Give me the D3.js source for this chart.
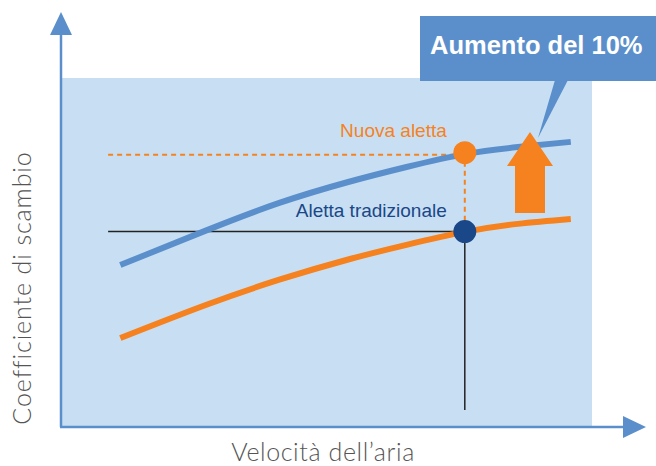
<!DOCTYPE html>
<html>
<head>
<meta charset="utf-8">
<script src="https://cdn.jsdelivr.net/npm/d3@7"></script>
<style>
  body { margin: 0; background: #fff; }
  svg { display: block; }
</style>
</head>
<body>
<div id="chart"></div>
<script>
// curve data (velocity in arbitrary units, coefficient 0-100)
var velocita = [1.1, 2.7, 4.1, 5.4, 6.5, 7.6, 8.6, 9.6];
var nuovaAletta = [46.4, 56.2, 64.2, 70.2, 74.5, 78.2, 80.2, 81.7];
var alettaTradizionale = [25.5, 34.9, 42.2, 48.0, 52.2, 55.9, 58.2, 59.6];

// operating point
var puntoVelocita = 7.6;
var puntoNuova = 78.6;
var puntoTradizionale = 56.0;
var guidaInizio = 0.87;
var guidaFondo = 4.9;
var frecciaVelocita = 8.83;

var etichette = {
  x: "Velocità dell’aria",
  y: "Coefficiente di scambio",
  nuova: "Nuova aletta",
  tradizionale: "Aletta tradizionale",
  aumento: "Aumento del 10%"
};

var blue = "#5b8fcb", lightBlue = "#c8dff3", orange = "#f5821f", navy = "#1a4787";

var W = 656, H = 466;
var margin = {top: 78, right: 64, bottom: 39, left: 62},
    width = W - margin.left - margin.right,
    height = H - margin.top - margin.bottom;

var svg = d3.select("#chart")
  .append("svg")
    .attr("width", W)
    .attr("height", H);

var g = svg.append("g")
    .attr("transform", "translate(" + margin.left + "," + margin.top + ")");

var x = d3.scaleLinear().domain([0, 10]).range([0, width]);
var y = d3.scaleLinear().domain([0, 100]).range([height, 0]);

// plot background
g.append("rect")
  .attr("x", 0).attr("y", 0)
  .attr("width", width).attr("height", height)
  .attr("fill", lightBlue);

// axes with arrows
var axisY = margin.top + height;
svg.append("line")
  .attr("x1", margin.left - 1).attr("y1", axisY)
  .attr("x2", margin.left - 1).attr("y2", 32)
  .attr("stroke", blue).attr("stroke-width", 2.5);
svg.append("path")
  .attr("d", "M" + (margin.left - 1) + ",12 L" + (margin.left - 12) + ",35 L" + (margin.left + 10) + ",35 Z")
  .attr("fill", blue);
svg.append("line")
  .attr("x1", margin.left - 2).attr("y1", axisY)
  .attr("x2", 625).attr("y2", axisY)
  .attr("stroke", blue).attr("stroke-width", 2.5);
svg.append("path")
  .attr("d", "M646," + axisY + " L623," + (axisY - 11) + " L623," + (axisY + 11) + " Z")
  .attr("fill", blue);

// guide lines
g.append("line")
  .attr("x1", x(guidaInizio)).attr("x2", x(puntoVelocita))
  .attr("y1", y(puntoTradizionale)).attr("y2", y(puntoTradizionale))
  .attr("stroke", "#222").attr("stroke-width", 1.5);
g.append("line")
  .attr("x1", x(puntoVelocita)).attr("x2", x(puntoVelocita))
  .attr("y1", y(puntoTradizionale)).attr("y2", y(guidaFondo))
  .attr("stroke", "#222").attr("stroke-width", 1.5);
g.append("line")
  .attr("x1", x(guidaInizio)).attr("x2", x(puntoVelocita))
  .attr("y1", y(puntoNuova) + 2).attr("y2", y(puntoNuova) + 2)
  .attr("stroke", orange).attr("stroke-width", 2)
  .attr("stroke-dasharray", "5,4");
g.append("line")
  .attr("x1", x(puntoVelocita)).attr("x2", x(puntoVelocita))
  .attr("y1", y(puntoNuova)).attr("y2", y(puntoTradizionale))
  .attr("stroke", orange).attr("stroke-width", 2)
  .attr("stroke-dasharray", "5,4");

// curves
var line = d3.line()
  .x(function(d) { return x(d[0]); })
  .y(function(d) { return y(d[1]); })
  .curve(d3.curveNatural);

g.append("path")
  .datum(d3.zip(velocita, nuovaAletta))
  .attr("d", line)
  .attr("fill", "none")
  .attr("stroke", blue)
  .attr("stroke-width", 6);

g.append("path")
  .datum(d3.zip(velocita, alettaTradizionale))
  .attr("d", line)
  .attr("fill", "none")
  .attr("stroke", orange)
  .attr("stroke-width", 6);

// points
g.append("circle")
  .attr("cx", x(puntoVelocita)).attr("cy", y(puntoNuova))
  .attr("r", 11.5).attr("fill", orange);
g.append("circle")
  .attr("cx", x(puntoVelocita)).attr("cy", y(puntoTradizionale))
  .attr("r", 11.5).attr("fill", navy);

// point labels
g.append("text")
  .attr("x", x(puntoVelocita) - 18).attr("y", y(puntoNuova) - 16)
  .attr("text-anchor", "end")
  .attr("font-family", "Liberation Sans, Arial, sans-serif")
  .attr("font-size", 19)
  .attr("fill", orange)
  .text(etichette.nuova);
g.append("text")
  .attr("x", x(puntoVelocita) - 18).attr("y", y(puntoTradizionale) - 15)
  .attr("text-anchor", "end")
  .attr("font-family", "Liberation Sans, Arial, sans-serif")
  .attr("font-size", 19)
  .attr("fill", navy)
  .text(etichette.tradizionale);

// big orange up arrow
var ax = margin.left + x(frecciaVelocita);
svg.append("path")
  .attr("d", "M" + (ax - 15) + ",213 L" + (ax - 15) + ",166 L" + (ax - 23) + ",166 L" + ax + ",132 L" + (ax + 23) + ",166 L" + (ax + 15) + ",166 L" + (ax + 15) + ",213 Z")
  .attr("fill", orange);

// callout
svg.append("path")
  .attr("d", "M555,80 L568,80 L538,138 Z")
  .attr("fill", blue);
svg.append("rect")
  .attr("x", 420).attr("y", 16)
  .attr("width", 240).attr("height", 65)
  .attr("fill", blue);
svg.append("text")
  .attr("x", 430).attr("y", 54)
  .attr("font-family", "Liberation Sans, Arial, sans-serif")
  .attr("font-weight", "bold")
  .attr("font-size", 25.5)
  .attr("fill", "#fff")
  .text(etichette.aumento);

// axis titles
svg.append("text")
  .attr("x", 323).attr("y", 461)
  .attr("text-anchor", "middle")
  .attr("font-family", "Lato, Open Sans, sans-serif")
  .attr("font-weight", 300)
  .attr("font-size", 25)
  .attr("letter-spacing", 0.6)
  .attr("fill", "#555")
  .text(etichette.x);
svg.append("text")
  .attr("transform", "translate(31,288) rotate(-90)")
  .attr("text-anchor", "middle")
  .attr("font-family", "Lato, Open Sans, sans-serif")
  .attr("font-weight", 300)
  .attr("font-size", 25)
  .attr("letter-spacing", 0.9)
  .attr("fill", "#555")
  .text(etichette.y);
</script>
</body>
</html>
